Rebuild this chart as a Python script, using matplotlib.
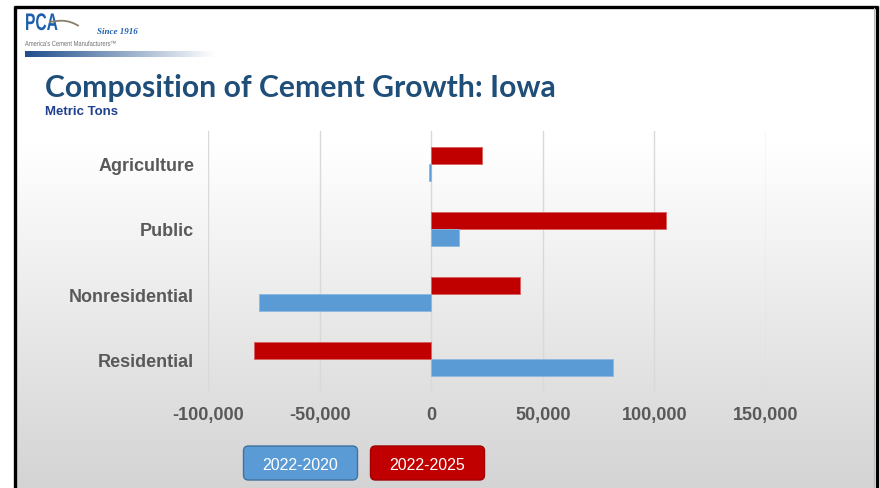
import numpy as np
import matplotlib
matplotlib.use("Agg")
import matplotlib.pyplot as plt
from matplotlib.patches import FancyBboxPatch, PathPatch
from matplotlib.textpath import TextPath
from matplotlib.font_manager import FontProperties
from matplotlib.transforms import Affine2D

# ---- data ----
categories = ["Residential", "Nonresidential", "Public", "Agriculture"]
series_names = ["2022-2020", "2022-2025"]
values_2020 = [81600, -77000, 12400, -1000]
values_2025 = [-79200, 40000, 105300, 22800]
xticks = [-100000, -50000, 0, 50000, 100000, 150000]
xticklabels = ["-100,000", "-50,000", "0", "50,000", "100,000", "150,000"]

title = "Composition of Cement Growth: Iowa"
subtitle = "Metric Tons"

blue = "#5B9BD5"
red = "#C00000"
W, H = 880, 489
fig = plt.figure(figsize=(W / 100, H / 100), dpi=100)

# ---- background / overlay axes in pixel coords ----
bg = fig.add_axes([0, 0, 1, 1], zorder=0)
bg.axis("off")
ys = np.arange(H)
t = np.clip((ys - 140) / (H - 140), 0, 1)
vals = 1.0 - t * (1.0 - 0.83)
img = np.dstack([vals, vals, vals]).reshape(H, 1, 3)
bg.imshow(img, extent=[16, 875, H, 9], aspect="auto", zorder=0, interpolation="bilinear")
# frame
bg.plot([14.5, 14.5], [7, H], color="black", lw=2.4, zorder=5, solid_capstyle="butt")
bg.plot([13.5, 877.5], [7.5, 7.5], color="black", lw=2.4, zorder=5, solid_capstyle="butt")
bg.plot([876.5, 876.5], [7, H], color="black", lw=2.4, zorder=5, solid_capstyle="butt")
bg.plot([874.3, 874.3], [9, H], color="#BBBBBB", lw=0.8, zorder=5)

# logo: condensed "PCA" via scaled text path
tp = TextPath((0, 0), "PCA", size=24, prop=FontProperties(family="Liberation Sans", weight="bold"))
tr = Affine2D().scale(0.65, -1.0).translate(25, 31)
bg.add_patch(PathPatch(tr.transform_path(tp), facecolor="#1F5FAD", edgecolor="none", zorder=6))
xs = np.linspace(50, 78, 30)
bg.plot(xs, 23 - 6 * np.sin((xs - 50) / 28 * np.pi * 0.7) + (xs - 50) * 0.3, color="#8A7F6A", lw=1.3, zorder=6)
bg.text(97, 34, "Since 1916", fontsize=6.5, fontstyle="italic", fontweight="bold", color="#1F5FAD",
        va="baseline", ha="left", zorder=6, family=["Liberation Serif", "DejaVu Serif"])
tp2 = TextPath((0, 0), "America's Cement Manufacturers\u2122", size=7.4,
               prop=FontProperties(family="Liberation Sans"))
tr2 = Affine2D().scale(0.78, -1.0).translate(25, 47)
bg.add_patch(PathPatch(tr2.transform_path(tp2), facecolor="#707070", edgecolor="none", zorder=6))
gimg = np.zeros((1, 200, 4))
c0 = np.array([0x1F, 0x4E, 0x8C]) / 255
for i, g in enumerate(np.linspace(0, 1, 200)):
    gimg[0, i, :3] = c0 * (1 - g) + np.array([1, 1, 1]) * g
    gimg[0, i, 3] = 1.0
bg.imshow(gimg, extent=[25, 215, 58, 52], aspect="auto", zorder=6)
bg.set_xlim(0, W)
bg.set_ylim(H, 0)

# title
bg.text(45, 97, title, fontsize=21.7, fontweight="bold", color="#1F4E79",
        family=["Lato", "DejaVu Sans"], va="baseline", ha="left", zorder=6)
bg.text(45, 115, subtitle, fontsize=9.5, fontweight="bold", color="#1F3F8F",
        family=["Liberation Sans", "DejaVu Sans"], va="baseline", ha="left", zorder=6)

# legend boxes
for (x0, x1, name, fc, ec) in [(243.5, 357.5, series_names[0], blue, "#41719C"),
                               (370.5, 484.5, series_names[1], red, "#A00000")]:
    box = FancyBboxPatch((x0, 447), x1 - x0, 34, boxstyle="round,pad=0,rounding_size=5",
                         facecolor=fc, edgecolor=ec, lw=1, zorder=6)
    bg.add_patch(box)
    bg.text((x0 + x1) / 2, 465, name, fontsize=11.5, color="white",
            family=["Liberation Sans", "DejaVu Sans"], ha="center", va="center", zorder=7)

# ---- main chart ----
ax = fig.add_axes([208 / W, (H - 393) / H, 558 / W, 261 / H], zorder=2)
ax.patch.set_alpha(0)
y = np.arange(len(categories))
h = 0.262
ax.barh(y + h / 2, values_2025, height=h, color=red, edgecolor="#D96060", lw=0.6, zorder=3)
ax.barh(y - h / 2, values_2020, height=h, color=blue, edgecolor="#8CB8E0", lw=0.6, zorder=3)
ax.set_xlim(-100000, 150000)
ax.set_ylim(-0.5, 3.5)
ax.set_xticks(xticks)
ax.set_xticklabels(xticklabels)
ax.set_yticks(y)
ax.set_yticklabels(categories)
for lab in ax.get_xticklabels() + ax.get_yticklabels():
    lab.set_fontsize(13)
    lab.set_fontweight("bold")
    lab.set_color("#595959")
    lab.set_family(["Liberation Sans", "DejaVu Sans"])
ax.tick_params(axis="both", length=0)
ax.tick_params(axis="x", pad=10)
ax.tick_params(axis="y", pad=10)
ax.grid(axis="x", color="#D9D9D9", lw=1, zorder=0)
for s in ax.spines.values():
    s.set_visible(False)

fig.savefig("out.png", dpi=100)
